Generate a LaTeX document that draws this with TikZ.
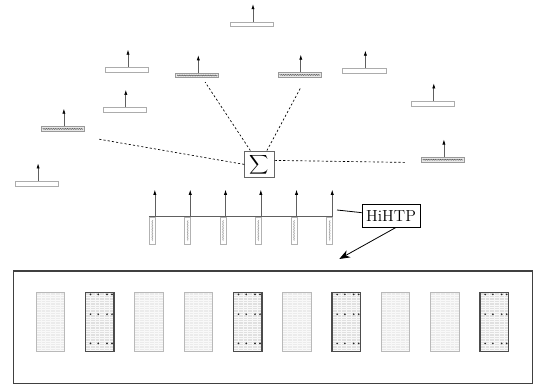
\documentclass[tikz,border=0pt]{standalone}
\usetikzlibrary{arrows.meta,decorations.pathmorphing}

\tikzset{every picture/.style={line width=0.75pt}}
\tikzset{
  plate/.style={draw=gray!65, line width=0.6pt, fill=white, inner sep=0pt, minimum width=32.3pt, minimum height=3.5pt},
  hplate/.style={plate, draw=gray!80, fill=gray!18, path picture={\draw[black!70, line width=0.25pt, decorate, decoration={zigzag, amplitude=0.45pt, segment length=1.3pt}] ([xshift=1pt]path picture bounding box.west) -- ([xshift=-1pt]path picture bounding box.east);}},
  strip/.style={draw=gray!60, line width=0.5pt, fill=white, inner sep=0pt, minimum width=4.5pt, minimum height=20.5pt, path picture={\draw[gray!80, line width=0.25pt, decorate, decoration={zigzag, amplitude=0.4pt, segment length=1.2pt}] ([yshift=-2.5pt]path picture bounding box.north) -- ([yshift=2.5pt]path picture bounding box.south);}},
  sensor/.style={draw=gray!75!black, line width=0.5pt, -{Latex[length=3.8pt,width=2.4pt,color=black]}},
  link/.style={line width=0.5pt, dash pattern=on 1.6pt off 1.6pt},
  sumbox/.style={draw=gray!80!black, line width=0.8pt, fill=white, inner sep=0pt, minimum width=22pt, minimum height=20pt},
  labelbox/.style={draw, line width=0.6pt, inner sep=3pt, minimum height=17pt, font=\large},
  cell/.style={draw=gray!55, line width=0.6pt, fill=gray!16, inner sep=0pt, minimum width=21.4pt, minimum height=43.9pt,
    path picture={\foreach \k in {1,...,24} \draw[white!70!gray!16, line width=0.3pt] ([yshift=-1.8*\k pt]path picture bounding box.north west) -- ++(21.4pt,0);
      \foreach \k in {1,...,5} \draw[white!60!gray!16, line width=0.3pt] ([xshift=3.6*\k pt]path picture bounding box.north west) -- ++(0,-43.9pt);}},
  dcell/.style={cell, draw=black!70, line width=1.1pt, fill=gray!24},
  pin/.style={fill=black!85, radius=0.7pt}
}

\begin{document}
\begin{tikzpicture}[x=0.75pt,y=0.75pt,yscale=-1,xscale=1]
\useasboundingbox (0,0) rectangle (536,385);

%Shape: plates with sensors
\node[plate] (p1) at (252,24.4) {};
\node[plate] (p2) at (127,69.9) {};
\node[hplate] (h1) at (197.3,75.5) {};
\node[hplate] (h2) at (299.8,74.9) {};
\node[plate] (p3) at (364.4,70.8) {};
\node[plate] (p4) at (124.8,110.1) {};
\node[hplate] (h3) at (62.9,128.9) {};
\node[plate] (p5) at (432.8,103.6) {};
\node[hplate] (h4) at (442.9,159.7) {};
\node[plate] (p6) at (37.1,183.6) {};
%Straight Lines: sensor arrows
\foreach \n in {p1,p2,p3,p4,p5,p6,h1,h2,h3,h4}
  \draw[sensor] ([xshift=0.75pt]\n.north) -- ++(0,-17.5);

% Text Node
\node[sumbox] (sig) at (259.5,164.4) {\fontsize{9.5}{11}\selectfont$\displaystyle\sum$};
%Straight Lines: dashed links
\coordinate (d1) at (98.5,139.1);
\coordinate (d2) at (205.1,82.1);
\coordinate (d3) at (300.9,87.2);
\coordinate (d4) at (405.1,162.4);
\draw[link] (sig.west) -- (d1);
\draw[link] (sig) -- (d2);
\draw[link] (sig) -- (d3);
\draw[link] ([yshift=-3pt]sig.east) -- (d4);

%Shape: strips on the rail
\foreach \i/\cx in {1/152.3,2/187.7,3/223,4/258.3,5/294,6/329.7}
  \node[strip] (s\i) at (\cx,230.7) {};
\draw[gray!75!black, line width=0.5pt] (s1.north west) -- (s6.north east);
\foreach \i in {1,...,6}
  \draw[sensor] ([xshift=-0.6pt]s\i.north east) -- ++(0,-27);

% Text Node
\node[labelbox] (htp) at (391,215.8) {HiHTP};
\coordinate (hl) at (337,210);
\coordinate (ar) at (339.3,259);
\draw[line width=0.6pt] (hl) -- (htp);
\draw[line width=0.6pt, -{Stealth[length=8pt,width=6pt]}] ([xshift=3.6pt]htp.south) -- (ar);

%Shape: frame
\draw[black!75, line width=0.9pt] (13.7,271) rectangle (532.3,383.8);
%Shape: cells
\foreach \i/\st in {1/cell,2/dcell,3/cell,4/cell,5/dcell,6/cell,7/dcell,8/cell,9/cell,10/dcell}
  \node[\st] (c\i) at ({50.2+49.33*(\i-1)},322) {};
\foreach \i in {2,5,7,10}
  \foreach \dx in {6,13.7,22.5,27.5}
    \foreach \dy in {2.4,22.2,51.4}
      \fill[pin] ([shift={(\dx,\dy)}]c\i.north west) circle;

\end{tikzpicture}
\end{document}
